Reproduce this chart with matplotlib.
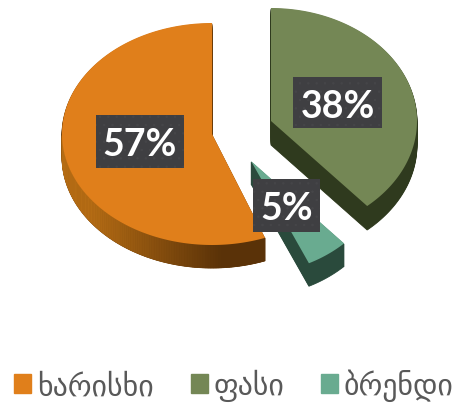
import numpy as np
import matplotlib
matplotlib.use("Agg")
import matplotlib.pyplot as plt
from matplotlib.patches import Patch
from matplotlib.colors import to_rgb

# data, clockwise from the top
categories = ["ფასი", "ბრენდი", "ხარისხი"]
shares = [38, 5, 57]
legend_order = [2, 0, 1]

colors = ["#748755", "#69AB90", "#E07F1B"]
side_colors = ["#2F3A1E", "#2A4A3C", "#6B3C08"]

# each slice is pulled apart by hand: centre x, centre y, rx, ry, depth, end trim in degrees
geom = [(271, 122, 146, 113, 24, 2.0),
        (251, 162, 136, 113, 23, 0.0),
        (212, 135, 150, 111, 23, 4.5)]
# label box x0, x1, y0, y1
boxes = [(293, 382, 78, 129),
         (253, 320, 180, 233),
         (96, 184, 116, 169)]

fig = plt.figure(figsize=(4.62, 4.10), dpi=100)
ax = fig.add_axes([0, 0, 1, 1])
ax.set_xlim(0, 462)
ax.set_ylim(410, 0)
ax.axis("off")
plt.rcParams["hatch.linewidth"] = 0.5

edges = 90 - 360 * np.cumsum([0] + shares) / sum(shares)


def arc(i, n=200):
    cx, cy, rx, ry, _, trim = geom[i]
    if i == 2:
        # this one runs counter clockwise from the top in the picture
        th = np.radians(np.linspace(90, 90 + 360 * shares[i] / sum(shares) - trim, n))
    else:
        th = np.radians(np.linspace(edges[i], edges[i + 1] - trim, n))
    return cx + rx * np.cos(th), cy - ry * np.sin(th)


def draw_slice(i, z):
    cx, cy, rx, ry, depth, _ = geom[i]
    x, y = arc(i)
    xs = np.r_[cx, x]
    ys = np.r_[cy, y]
    for d in range(depth, 0, -1):
        ax.fill(xs, ys + d, color=side_colors[i], lw=0.6, zorder=z)
    ax.fill(xs, ys, color=colors[i], lw=0, zorder=z + 1)


for i, z in zip([2, 0, 1], [2, 4, 6]):
    draw_slice(i, z)

# shading along the orange rim, light on the left and dark to the right
x, y = arc(2)
light = np.array(to_rgb("#B56C14"))
dark = np.array(to_rgb("#5A3208"))
depth = geom[2][4]
for k in range(len(x) - 1):
    if y[k] < geom[2][1] or y[k + 1] < geom[2][1]:
        continue
    t = np.clip((x[k] - 90) / 130, 0, 1)
    ax.fill([x[k], x[k + 1], x[k + 1], x[k]],
            [y[k], y[k + 1], y[k + 1] + depth, y[k] + depth],
            color=light + (dark - light) * t, lw=0.4, zorder=2.5)

for i, (x0, x1, y0, y1) in enumerate(boxes):
    ax.fill([x0, x1, x1, x0], [y0, y0, y1, y1], facecolor="#3F3F42",
            edgecolor="#464649", hatch="..", lw=0, zorder=8)
    ax.text((x0 + x1) / 2, (y0 + y1) / 2 + 3, "{}%".format(shares[i]),
            color="white", fontsize=27, fontweight="bold", family="Lato",
            ha="center", va="center", zorder=9)

handles = [Patch(color=colors[i], label=categories[i]) for i in legend_order]
fig.legend(handles=handles, ncol=3, loc="center", bbox_to_anchor=(234 / 462, 1 - 386 / 410),
           frameon=False, fontsize=21.5, labelcolor="#595959",
           handlelength=0.57, handleheight=0.57, handletextpad=0.18,
           columnspacing=1.25, borderpad=0, borderaxespad=0)

fig.savefig("out.png", dpi=100)
